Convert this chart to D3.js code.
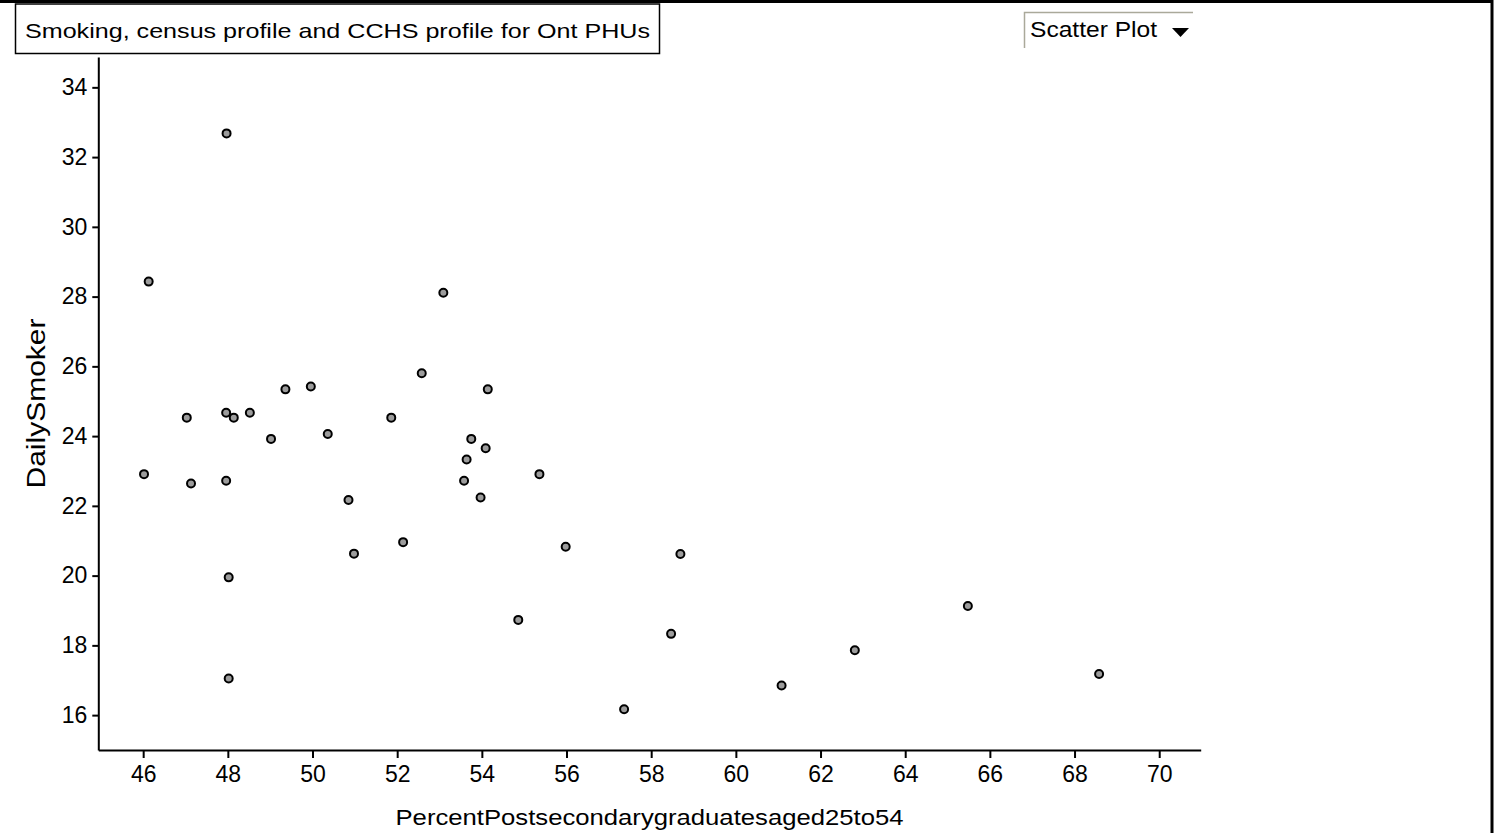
<!DOCTYPE html>
<html>
<head>
<meta charset="utf-8">
<script src="https://cdn.jsdelivr.net/npm/d3@7"></script>
<style>
  html, body { margin: 0; padding: 0; background: #fff; }
  svg { display: block; font-family: "Liberation Sans", Arial, sans-serif; }
</style>
</head>
<body>
<svg id="chart"></svg>
<script>
// values
const percentPostsecondary = [
  47.97, 46.13, 53.09, 52.58, 49.36, 49.96, 54.14, 47.03, 47.96, 48.14,
  48.52, 51.86, 49.02, 50.36, 53.75, 54.09, 53.64, 46.02, 47.13, 47.96,
  50.85, 53.58, 53.97, 55.36, 52.14, 50.98, 55.98, 58.69, 48.02, 54.86,
  58.47, 48.02, 57.36, 61.08, 62.81, 65.48, 68.58
];
const dailySmoker = [
  32.68, 28.43, 28.11, 25.80, 25.34, 25.42, 25.34, 24.53, 24.67, 24.53,
  24.67, 24.53, 23.92, 24.06, 23.92, 23.65, 23.33, 22.91, 22.64, 22.72,
  22.17, 22.72, 22.24, 22.91, 20.96, 20.63, 20.83, 20.62, 19.95, 18.73,
  18.33, 17.05, 16.17, 16.85, 17.86, 19.13, 17.18
];
const xTicks = d3.range(46, 71, 2);
const yTicks = d3.range(16, 35, 2);
const titleText = 'Smoking, census profile and CCHS profile for Ont PHUs';
const xLabel = 'PercentPostsecondarygraduatesaged25to54';
const yLabel = 'DailySmoker';

const width = 1496, height = 833;
const plot = { left: 98.3, right: 1200.7, top: 57, bottom: 750 };

const svg = d3.select('#chart')
  .attr('width', width)
  .attr('height', height)
  .attr('viewBox', `0 0 ${width} ${height}`);

// outer frame: top and right edges only
svg.append('line')
  .attr('x1', 0).attr('x2', 1493).attr('y1', 1.5).attr('y2', 1.5)
  .attr('stroke', '#000').attr('stroke-width', 3);
svg.append('line')
  .attr('x1', 1492).attr('x2', 1492).attr('y1', 0).attr('y2', height)
  .attr('stroke', '#000').attr('stroke-width', 3);

// title box
svg.append('rect')
  .attr('x', 15.5).attr('y', 4).attr('width', 644).attr('height', 49.5)
  .attr('fill', '#fff').attr('stroke', '#000').attr('stroke-width', 1.5);
svg.append('text')
  .attr('x', 25).attr('y', 38)
  .attr('font-size', 21)
  .attr('textLength', 625).attr('lengthAdjust', 'spacingAndGlyphs')
  .text(titleText);

// "Scatter Plot" dropdown
svg.append('path')
  .attr('d', 'M1024.5,48V12.5H1193')
  .attr('fill', 'none').attr('stroke', '#aaa99a').attr('stroke-width', 1.5);
svg.append('text')
  .attr('x', 1030).attr('y', 37)
  .attr('font-size', 22)
  .attr('textLength', 127).attr('lengthAdjust', 'spacingAndGlyphs')
  .text('Scatter Plot');
svg.append('path')
  .attr('d', 'M1172,28H1189L1180.5,37Z')
  .attr('fill', '#000');

const x = d3.scaleLinear().domain([44.94, 70.98]).range([plot.left, plot.right]);
const y = d3.scaleLinear().domain([15.0, 34.87]).range([plot.bottom, plot.top]);

const xAxis = svg.append('g')
  .attr('transform', `translate(0,${plot.bottom})`)
  .call(d3.axisBottom(x).tickValues(xTicks).tickSize(8).tickSizeOuter(0).tickPadding(8));
const yAxis = svg.append('g')
  .attr('transform', `translate(${plot.left},0)`)
  .call(d3.axisLeft(y).tickValues(yTicks).tickSize(6).tickSizeOuter(0).tickPadding(5));

[xAxis, yAxis].forEach(ax => {
  ax.attr('font-family', null).attr('font-size', null);
  ax.select('.domain').attr('stroke', '#000').attr('stroke-width', 2);
  ax.selectAll('.tick line').attr('stroke', '#000').attr('stroke-width', 2);
  ax.selectAll('.tick text').attr('fill', '#000').attr('font-size', 23);
});

// axis titles
svg.append('text')
  .attr('x', (plot.left + plot.right) / 2).attr('y', 825)
  .attr('text-anchor', 'middle')
  .attr('font-size', 22)
  .attr('textLength', 508).attr('lengthAdjust', 'spacingAndGlyphs')
  .text(xLabel);
svg.append('text')
  .attr('transform', `translate(45,${(plot.top + plot.bottom) / 2}) rotate(-90)`)
  .attr('text-anchor', 'middle')
  .attr('font-size', 25)
  .attr('textLength', 170).attr('lengthAdjust', 'spacingAndGlyphs')
  .text(yLabel);

// points
svg.append('g')
  .selectAll('circle')
  .data(percentPostsecondary.map((v, i) => ({ x: v, y: dailySmoker[i] })))
  .join('circle')
  .attr('cx', d => x(d.x))
  .attr('cy', d => y(d.y))
  .attr('r', 4)
  .attr('fill', '#9c9c9c')
  .attr('stroke', '#000')
  .attr('stroke-width', 2);
</script>
</body>
</html>
